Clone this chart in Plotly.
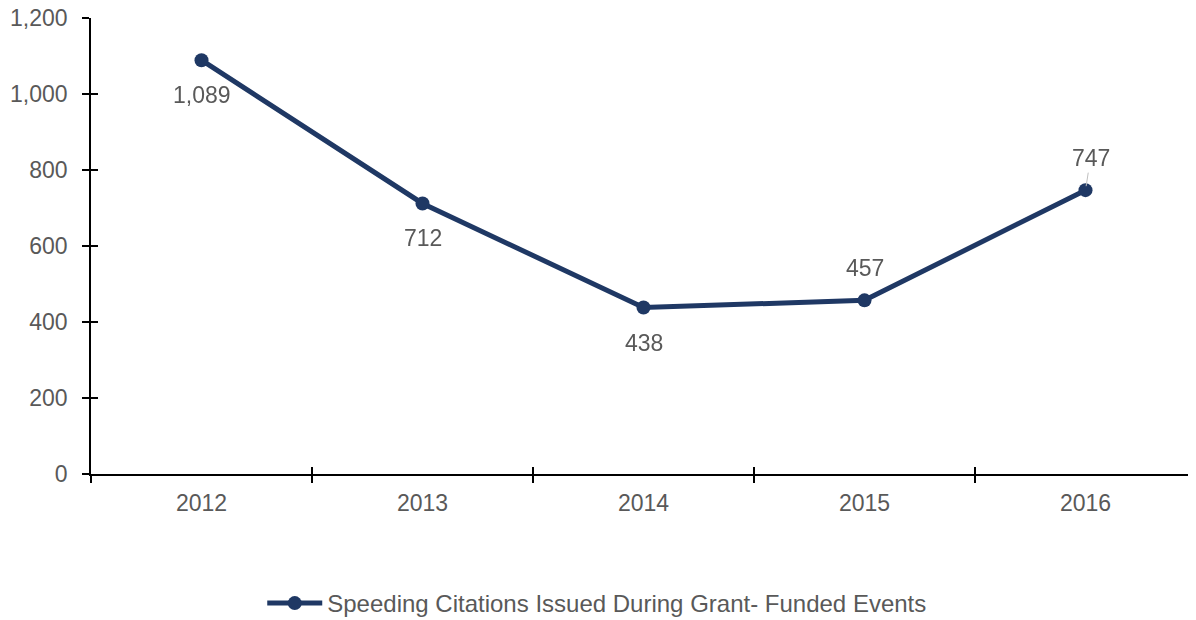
import plotly.graph_objects as go

years = ["2012", "2013", "2014", "2015", "2016"]
citations = [1089, 712, 438, 457, 747]
label_side = ["below", "below", "below", "above", "above"]
leader_line = [False, False, False, False, True]

LINE_COLOR = "#1F3864"
TEXT_COLOR = "#595959"
FONT = "Liberation Sans, Arial, sans-serif"

fig = go.Figure()

fig.add_trace(
    go.Scatter(
        x=years,
        y=citations,
        mode="lines+markers",
        name="Speeding Citations Issued During Grant- Funded Events",
        line={"color": LINE_COLOR, "width": 5},
        marker={"color": LINE_COLOR, "size": 14},
    )
)

# invisible copy on overlay axes, only so the inner half of the ticks is drawn
fig.add_trace(
    go.Scatter(
        x=years,
        y=citations,
        xaxis="x2",
        yaxis="y2",
        mode="markers",
        opacity=0,
        showlegend=False,
        hoverinfo="skip",
    )
)

# data labels (index positions on the category axis)
for i, (val, side, leader) in enumerate(zip(citations, label_side, leader_line)):
    shift = 32 if side == "above" else -35
    if leader:
        fig.add_annotation(
            x=i,
            y=val,
            text=f"{val:,}",
            showarrow=True,
            arrowhead=0,
            arrowwidth=1,
            arrowcolor="#BFBFBF",
            ax=5,
            ay=-shift,
            standoff=4,
            font={"size": 23, "color": TEXT_COLOR, "family": FONT},
        )
    else:
        fig.add_annotation(
            x=i,
            y=val,
            text=f"{val:,}",
            showarrow=False,
            yshift=shift,
            font={"size": 23, "color": TEXT_COLOR, "family": FONT},
        )

axis_common = {
    "tickcolor": "black",
    "tickwidth": 1.5,
    "showgrid": False,
    "zeroline": False,
    "automargin": False,
}

fig.update_layout(
    width=1188,
    height=612,
    margin={"l": 83, "r": 0, "t": 10, "b": 146},
    plot_bgcolor="white",
    paper_bgcolor="white",
    font={"family": FONT, "size": 23, "color": TEXT_COLOR},
    showlegend=True,
    legend={
        "orientation": "h",
        "xref": "container",
        "x": 0.496,
        "xanchor": "center",
        "yref": "container",
        "y": 0.027,
        "yanchor": "middle",
        "itemwidth": 55,
        "font": {"size": 24, "color": TEXT_COLOR},
    },
    xaxis={
        **axis_common,
        "type": "category",
        "range": [-0.5, 4.5],
        "tickson": "boundaries",
        "ticks": "outside",
        "ticklen": 7,
        "ticklabelstandoff": 8,
        "showline": True,
        "linecolor": "black",
        "linewidth": 1.5,
        "tickfont": {"size": 23, "color": TEXT_COLOR},
    },
    yaxis={
        **axis_common,
        "range": [0, 1200],
        "dtick": 200,
        "tickformat": ",",
        "ticks": "outside",
        "ticklen": 7,
        "ticklabelstandoff": 10,
        "ticklabeloverflow": "allow",
        "showline": True,
        "linecolor": "black",
        "linewidth": 1.5,
        "tickfont": {"size": 23, "color": TEXT_COLOR},
    },
    xaxis2={
        **axis_common,
        "type": "category",
        "overlaying": "x",
        "range": [-0.5, 4.5],
        "tickson": "boundaries",
        "ticks": "inside",
        "ticklen": 7,
        "showticklabels": False,
        "showline": False,
    },
    yaxis2={
        **axis_common,
        "overlaying": "y",
        "range": [0, 1200],
        "dtick": 200,
        "ticks": "inside",
        "ticklen": 7,
        "showticklabels": False,
        "showline": False,
    },
)

fig.write_html("out.html")
